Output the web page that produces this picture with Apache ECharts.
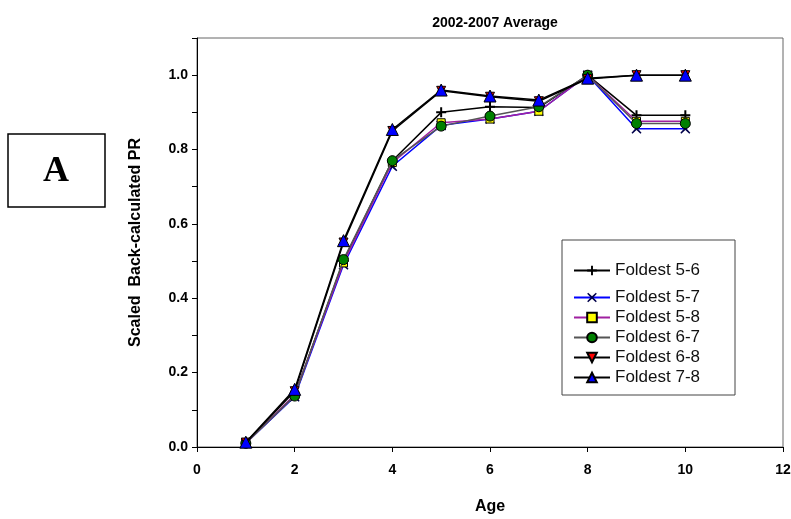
<!DOCTYPE html>
<html><head><meta charset="utf-8">
<script src="https://cdn.jsdelivr.net/npm/echarts@6/dist/echarts.min.js"></script>
<style>html,body{margin:0;padding:0;background:#fff}#c{width:791px;height:519px}</style>
</head><body><div id="c"></div>
<script>
const ages = [1, 2, 3, 4, 5, 6, 7, 8, 9, 10];
const seriesNames = ['Foldest 5-6', 'Foldest 5-7', 'Foldest 5-8', 'Foldest 6-7', 'Foldest 6-8', 'Foldest 7-8'];
const f56 = [0.010, 0.140, 0.500, 0.770, 0.900, 0.915, 0.913, 1.000, 0.892, 0.892];
const f57 = [0.010, 0.135, 0.490, 0.755, 0.865, 0.882, 0.903, 1.000, 0.856, 0.856];
const f58 = [0.010, 0.140, 0.495, 0.765, 0.872, 0.882, 0.903, 1.000, 0.876, 0.876];
const f67 = [0.010, 0.137, 0.504, 0.770, 0.863, 0.890, 0.915, 1.000, 0.870, 0.870];
const f68 = [0.012, 0.150, 0.550, 0.850, 0.958, 0.942, 0.930, 0.990, 1.000, 1.000];
const f78 = [0.013, 0.155, 0.555, 0.854, 0.960, 0.944, 0.933, 0.992, 1.000, 1.000];
const xTicks = [0, 2, 4, 6, 8, 10, 12];
const yTicks = [0.0, 0.2, 0.4, 0.6, 0.8, 1.0];

const FONT = '"Liberation Sans", Arial, sans-serif';
const PLUS = 'path://M4,0 H6 V4 H10 V6 H6 V10 H4 V6 H0 V4 H4 Z';
const CROSS = 'path://M1,0 L5,3.6 L9,0 L10,1 L6.4,5 L10,9 L9,10 L5,6.4 L1,10 L0,9 L3.6,5 L0,1 Z';

function pts(v) { return ages.map((a, i) => [a, v[i]]); }
const vals = [f56, f57, f58, f67, f68, f78];
const styles = [
  {line: '#000', symbol: PLUS, size: 10, fill: '#000', border: '#000', bw: 0},
  {line: '#0000ff', symbol: CROSS, size: 10, fill: '#00004a', border: '#00004a', bw: 0},
  {line: '#a020a0', symbol: 'rect', size: 8, fill: '#ffff00', border: '#000', bw: 1},
  {line: '#555', symbol: 'circle', size: 10, fill: '#008000', border: '#000', bw: 1},
  {line: '#000', symbol: 'triangle', size: 9, fill: '#ff0000', border: '#000', bw: 1, rotate: 180},
  {line: '#000', symbol: 'triangle', size: 12, fill: '#0000ff', border: '#000', bw: 1}
];

const series = seriesNames.map((n, k) => ({
  name: n, type: 'line', data: pts(vals[k]),
  symbol: styles[k].symbol, symbolSize: styles[k].size, symbolRotate: styles[k].rotate || 0,
  showAllSymbol: true,
  lineStyle: {color: styles[k].line, width: 1.5},
  itemStyle: {color: styles[k].fill, borderColor: styles[k].border, borderWidth: styles[k].bw},
  z: 2 + k
}));

const legText = {fontFamily: FONT, fontSize: 17, color: '#111'};
const chart = echarts.init(document.getElementById('c'), null, {renderer: 'canvas'});
chart.setOption({
  animation: false,
  backgroundColor: '#fff',
  title: {text: '2002-2007 Average', left: 490, top: 11, textAlign: 'center',
    textStyle: {fontFamily: FONT, fontSize: 14, fontWeight: 'bold', color: '#000'}},
  grid: {left: 197, right: 8, top: 38, bottom: 72, show: true, borderColor: '#666', borderWidth: 1,
    containLabel: false, outerBoundsMode: 'none'},
  legend: [
    {data: [seriesNames[0]], left: 568, top: 257, orient: 'vertical', itemWidth: 36, itemHeight: 12,
      textStyle: legText},
    {data: seriesNames.slice(1), left: 568, top: 284, orient: 'vertical', itemWidth: 36, itemHeight: 12, itemGap: 3,
      textStyle: legText}
  ],
  graphic: [
    {type: 'rect', shape: {x: 562, y: 240, width: 173, height: 155}, style: {fill: 'none', stroke: '#444', lineWidth: 1}, z: 0},
    {type: 'rect', shape: {x: 8, y: 134, width: 97, height: 73}, style: {fill: '#fff', stroke: '#000', lineWidth: 1.5}},
    {type: 'text', x: 56, y: 172, style: {text: 'A', font: 'bold 36px "Liberation Serif", "Times New Roman", serif', fill: '#000', align: 'center', verticalAlign: 'middle'}}
  ],
  xAxis: {
    type: 'value', min: xTicks[0], max: xTicks[xTicks.length - 1], interval: 2,
    name: 'Age', nameLocation: 'middle', nameGap: 52,
    nameTextStyle: {fontFamily: FONT, fontSize: 16, fontWeight: 'bold', color: '#000'},
    axisLine: {lineStyle: {color: '#000', width: 1}},
    axisTick: {show: true, length: 5, lineStyle: {color: '#000'}},
    axisLabel: {fontFamily: FONT, fontSize: 14, fontWeight: 'bold', color: '#000', margin: 16},
    splitLine: {show: false}
  },
  yAxis: {
    type: 'value', min: yTicks[0], max: 1.1, interval: 0.2,
    name: 'Scaled  Back-calculated PR', nameLocation: 'middle', nameGap: 53,
    nameTextStyle: {fontFamily: FONT, fontSize: 16, fontWeight: 'bold', color: '#000'},
    axisLine: {show: true, lineStyle: {color: '#000', width: 1}},
    axisTick: {show: true, length: 5, lineStyle: {color: '#000'}},
    minorTick: {show: true, splitNumber: 2, length: 5, lineStyle: {color: '#000'}},
    axisLabel: {fontFamily: FONT, fontSize: 14, fontWeight: 'bold', color: '#000', margin: 9, showMaxLabel: false,
      formatter: v => v.toFixed(1)},
    splitLine: {show: false}
  },
  series: series
});
</script></body></html>
